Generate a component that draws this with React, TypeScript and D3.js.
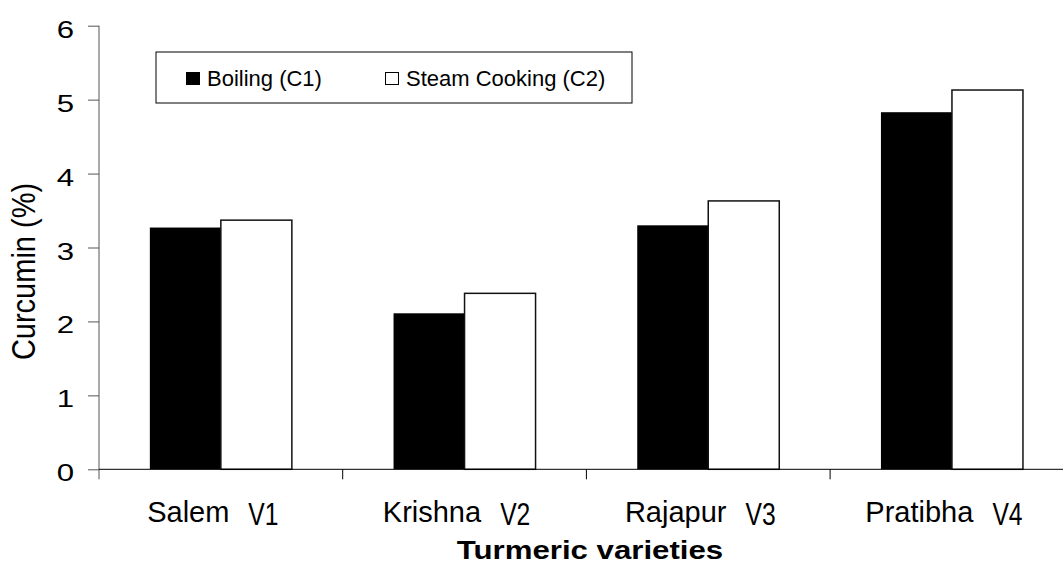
import React, { useRef, useEffect } from 'react';
import * as d3 from 'd3';

// values
const varieties = ['Salem', 'Krishna', 'Rajapur', 'Pratibha'];
const varietyCodes = ['V1', 'V2', 'V3', 'V4'];
const seriesNames = ['Boiling (C1)', 'Steam Cooking (C2)'];
const boiling = [3.27, 2.11, 3.30, 4.83];
const steamCooking = [3.37, 2.38, 3.63, 5.13];
const yTicks = [0, 1, 2, 3, 4, 5, 6];

const W = 1063;
const H = 563;
const FONT = 'Arial, "Liberation Sans", sans-serif';

const App: React.FC = () => {
  const svgRef = useRef<SVGSVGElement | null>(null);

  useEffect(() => {
    if (!svgRef.current) return;
    const svg = d3.select(svgRef.current);
    svg.selectAll('*').remove();

    const left = 99;
    const top = 25.7;
    const bottom = 469.3;
    const step = 243.7;

    const x = d3.scaleBand<string>()
      .domain(varieties)
      .range([left, left + step * varieties.length])
      .paddingInner(0)
      .paddingOuter(0);

    const xSeries = d3.scaleBand<string>()
      .domain(seriesNames)
      .range([0, x.bandwidth()])
      .paddingInner(0)
      .paddingOuter(0.716);

    const y = d3.scaleLinear().domain([0, 6]).range([bottom, top]);

    const fills = ['#000000', '#ffffff'];
    const values = [boiling, steamCooking];

    const rows = varieties.flatMap((v, i) =>
      seriesNames.map((s, j) => ({ variety: v, series: s, j, value: values[j][i] })));

    // bars
    svg.append('g')
      .selectAll('rect')
      .data(rows)
      .join('rect')
      .attr('x', d => x(d.variety)! + xSeries(d.series)!)
      .attr('y', d => y(d.value))
      .attr('width', xSeries.bandwidth())
      .attr('height', d => y(0) - y(d.value))
      .attr('fill', d => fills[d.j])
      .attr('stroke', d => d.j === 1 ? '#111' : 'none')
      .attr('stroke-width', 1.5);

    // y axis
    const yAxis = svg.append('g')
      .attr('transform', `translate(${left},0)`)
      .call(d3.axisLeft(y).tickValues(yTicks).tickSize(11).tickFormat(d3.format('d')));
    yAxis.select('.domain').remove();
    yAxis.selectAll('.tick line').attr('stroke', '#555');
    yAxis.selectAll('.tick text')
      .attr('x', 0)
      .attr('transform', 'translate(-25,0) scale(1.3,1)')
      .attr('dy', '0.48em')
      .attr('font-size', 24)
      .attr('font-family', FONT)
      .attr('fill', '#000');
    svg.append('line')
      .attr('x1', left).attr('x2', left)
      .attr('y1', top).attr('y2', bottom + 10)
      .attr('stroke', '#555');

    // x axis
    svg.append('line')
      .attr('x1', left).attr('x2', W)
      .attr('y1', bottom).attr('y2', bottom)
      .attr('stroke', '#000');
    svg.append('g')
      .selectAll('line')
      .data(varieties.slice(1))
      .join('line')
      .attr('x1', d => x(d)!).attr('x2', d => x(d)!)
      .attr('y1', bottom).attr('y2', bottom + 10)
      .attr('stroke', '#000');

    // category labels: name, then the code in a narrow face
    const codeScale = 0.85;
    const gap = 19;
    const labels = svg.append('g');
    varieties.forEach((v, i) => {
      const g = labels.append('g');
      const name = g.append('text')
        .attr('y', 522)
        .attr('font-size', 29)
        .attr('font-family', FONT)
        .text(v);
      const code = g.append('text')
        .attr('font-size', 29)
        .attr('font-family', FONT)
        .text(varietyCodes[i]);
      const wName = (name.node() as SVGTextElement).getComputedTextLength();
      const wCode = (code.node() as SVGTextElement).getComputedTextLength() * codeScale;
      const start = x(v)! + x.bandwidth() / 2 - 8 - (wName + gap + wCode) / 2;
      name.attr('x', start);
      code.attr('transform', `translate(${start + wName + gap},525) scale(${codeScale},1.05)`);
    });

    // axis titles
    svg.append('text')
      .attr('transform', `translate(35,${(top + bottom) / 2 + 24}) rotate(-90) scale(1,1.15)`)
      .attr('text-anchor', 'middle')
      .attr('font-size', 29)
      .attr('font-family', FONT)
      .text('Curcumin (%)');
    svg.append('text')
      .attr('transform', 'translate(590,559) scale(1.2,1)')
      .attr('text-anchor', 'middle')
      .attr('font-size', 26)
      .attr('font-weight', 'bold')
      .attr('font-family', FONT)
      .text('Turmeric varieties');

    // legend
    const lg = svg.append('g');
    lg.append('rect')
      .attr('x', 156).attr('y', 52)
      .attr('width', 476).attr('height', 51)
      .attr('fill', '#fff').attr('stroke', '#000');
    const items = lg.selectAll('g')
      .data(seriesNames)
      .join('g')
      .attr('transform', (_, i) => `translate(${i === 0 ? 186 : 385},0)`);
    items.append('rect')
      .attr('x', 0.5).attr('y', 72.5)
      .attr('width', 13).attr('height', 12)
      .attr('fill', (_, i) => fills[i])
      .attr('stroke', '#000');
    items.append('text')
      .attr('x', 21)
      .attr('y', 86)
      .attr('font-size', 22)
      .attr('font-family', FONT)
      .text(d => d);
  }, []);

  return (
    <svg
      ref={svgRef}
      width={W}
      height={H}
      style={{ position: 'absolute', left: 0, top: 0, background: '#fff' }}
    />
  );
};

export default App;
